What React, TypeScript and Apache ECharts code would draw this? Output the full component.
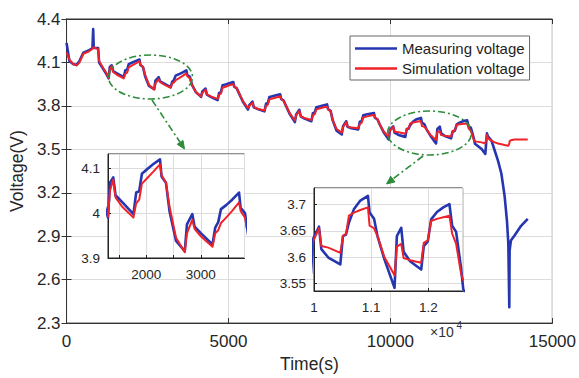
import React, { useEffect, useRef } from 'react';
import * as echarts from 'echarts';

// time (s) shared by both series
const time = [
  0, 90, 200, 310, 400, 520, 680, 800, 823, 840, 975, 1006, 1120, 1230, 1300, 1336,
  1396, 1438, 1556, 1766, 1816, 1871, 1921, 2016, 2126, 2252, 2281, 2361, 2426, 2546, 2706, 2746,
  2844, 2886, 3004, 3214, 3264, 3319, 3369, 3464, 3574, 3700, 3729, 3809, 3874, 3994, 4154, 4194,
  4292, 4334, 4452, 4662, 4712, 4767, 4817, 4912, 5022, 5148, 5177, 5257, 5322, 5442, 5602, 5642,
  5740, 5782, 5900, 6110, 6160, 6215, 6265, 6360, 6470, 6596, 6625, 6705, 6770, 6890, 7050, 7090,
  7188, 7230, 7348, 7558, 7608, 7663, 7713, 7808, 7918, 8044, 8073, 8153, 8218, 8338, 8498, 8538,
  8636, 8678, 8796, 9006, 9056, 9111, 9161, 9256, 9366, 9492, 9521, 9601, 9666, 9786, 9946, 9986,
  10087, 10129, 10250, 10460, 10506, 10560, 10611, 10700, 10810, 10943, 10972, 11050, 11110, 11230, 11408, 11449,
  11525, 11567, 11680, 11874, 11920, 11990, 12048, 12150, 12260, 12368, 12415, 12485, 12572, 12610, 12815, 12930,
  12980, 13010, 13120, 13222, 13323, 13425, 13527, 13600, 13640, 13670, 13680, 13720, 13832, 14035, 14240,
];

// Measuring voltage (V)
const measured = [
  4.235, 4.110, 4.090, 4.082, 4.110, 4.168, 4.182, 4.200, 4.330, 4.200, 4.200, 4.100, 4.060, 4.020, 3.990, 4.068,
  4.080, 4.040, 4.025, 3.998, 4.046, 4.049, 4.088, 4.098, 4.109, 4.120, 4.082, 4.068, 4.005, 3.938, 3.915, 3.975,
  3.998, 3.970, 3.955, 3.930, 3.968, 3.980, 4.009, 4.018, 4.030, 4.046, 4.012, 4.000, 3.945, 3.895, 3.863, 3.900,
  3.920, 3.877, 3.862, 3.840, 3.890, 3.895, 3.942, 3.948, 3.956, 3.965, 3.933, 3.921, 3.888, 3.830, 3.775, 3.805,
  3.830, 3.790, 3.778, 3.762, 3.815, 3.820, 3.862, 3.867, 3.873, 3.880, 3.848, 3.836, 3.803, 3.745, 3.688, 3.740,
  3.773, 3.728, 3.712, 3.694, 3.750, 3.755, 3.790, 3.796, 3.803, 3.810, 3.778, 3.766, 3.700, 3.628, 3.603, 3.660,
  3.694, 3.655, 3.646, 3.637, 3.690, 3.694, 3.735, 3.740, 3.745, 3.750, 3.718, 3.706, 3.673, 3.620, 3.568, 3.635,
  3.658, 3.615, 3.599, 3.586, 3.640, 3.643, 3.666, 3.692, 3.708, 3.717, 3.685, 3.673, 3.640, 3.596, 3.541, 3.640,
  3.656, 3.610, 3.592, 3.576, 3.621, 3.630, 3.672, 3.686, 3.695, 3.701, 3.660, 3.648, 3.578, 3.538, 3.502, 3.468,
  3.610, 3.590, 3.560, 3.490, 3.420, 3.333, 3.175, 3.000, 2.850, 2.410, 2.800, 2.870, 2.905, 2.972, 3.020,
];

// Simulation voltage (V)
const simulated = [
  4.170, 4.120, 4.090, 4.080, 4.100, 4.160, 4.175, 4.195, 4.200, 4.205, 4.190, 4.110, 4.065, 4.025, 3.992, 4.050,
  4.075, 4.035, 4.015, 3.990, 4.022, 4.030, 4.066, 4.078, 4.092, 4.109, 4.085, 4.068, 4.015, 3.945, 3.913, 3.955,
  3.985, 3.965, 3.948, 3.925, 3.955, 3.962, 3.978, 3.990, 4.005, 4.024, 4.005, 3.990, 3.945, 3.895, 3.865, 3.890,
  3.912, 3.880, 3.866, 3.848, 3.878, 3.885, 3.925, 3.932, 3.942, 3.950, 3.935, 3.920, 3.890, 3.835, 3.785, 3.800,
  3.822, 3.792, 3.780, 3.768, 3.800, 3.808, 3.845, 3.851, 3.858, 3.866, 3.850, 3.835, 3.805, 3.750, 3.700, 3.735,
  3.765, 3.730, 3.716, 3.702, 3.736, 3.742, 3.776, 3.782, 3.789, 3.795, 3.778, 3.762, 3.705, 3.640, 3.615, 3.655,
  3.688, 3.658, 3.650, 3.645, 3.676, 3.682, 3.720, 3.726, 3.732, 3.737, 3.722, 3.708, 3.675, 3.625, 3.585, 3.630,
  3.655, 3.621, 3.618, 3.608, 3.640, 3.645, 3.679, 3.685, 3.690, 3.695, 3.660, 3.655, 3.640, 3.600, 3.565, 3.620,
  3.625, 3.598, 3.594, 3.589, 3.627, 3.632, 3.669, 3.673, 3.676, 3.679, 3.645, 3.625, 3.568, 3.555, 3.548, 3.540,
  3.600, 3.575, 3.560, 3.548, 3.540, 3.535, 3.530, 3.527, 3.525, 3.540, 3.555, 3.563, 3.568, 3.568, 3.568,
];

const seriesNames = ['Measuring voltage', 'Simulation voltage'];

// axis ranges
const mainX = { min: 0, max: 15000, interval: 5000 };
const mainY = { min: 2.3, max: 4.4, interval: 0.3 };
const inset1X = { min: 1300, max: 3800, step: 500 };
const inset1Y = { min: 3.9, max: 4.132, interval: 0.1 };
const inset2X = { min: 10000, max: 12600, interval: 1000 };
const inset2Y = { min: 3.535, max: 3.732, step: 0.05 };

const BLUE = '#2536b0';
const RED = '#ef2229';
const GREEN = '#2e8c3a';
const TXT = '#262626';
const FONT = '"Liberation Sans", Arial, Helvetica, sans-serif';
const GRIDC = '#dcdcdc';

const trim = (v: number) => String(parseFloat(v.toFixed(3)));

const pairs = (vals: number[]) => time.map((t, i) => [t, vals[i]]);

const line = (name: string, vals: number[], color: string, width: number, idx: number, z: number) => ({
  type: 'line',
  name,
  data: pairs(vals),
  xAxisIndex: idx,
  yAxisIndex: idx,
  symbol: 'none',
  showSymbol: false,
  clip: true,
  silent: true,
  z,
  lineStyle: { color, width, join: 'round' },
  itemStyle: { color },
});

const insetAxisCommon = {
  z: 11,
  axisLine: { show: true, lineStyle: { color: '#222', width: 1 } },
  axisTick: { show: true, inside: true, length: 3, lineStyle: { color: '#222' } },
  splitLine: { show: true, lineStyle: { color: GRIDC, width: 1 } },
};

function buildOption() {
  return {
    animation: false,
    backgroundColor: '#fff',
    textStyle: { fontFamily: FONT },
    grid: [
      { left: 63, top: 19, width: 492, height: 311, show: true, backgroundColor: '#fff', borderColor: '#333', borderWidth: 1, z: 0 },
      { left: 108, top: 154, width: 136.5, height: 104, show: true, backgroundColor: '#fff', borderColor: '#222', borderWidth: 1, z: 10 },
      { left: 314, top: 188, width: 148.7, height: 103, show: true, backgroundColor: '#fff', borderColor: '#222', borderWidth: 1, z: 10 },
    ],
    xAxis: [
      {
        type: 'value', gridIndex: 0, ...mainX,
        name: 'Time(s)', nameLocation: 'middle', nameGap: 27,
        nameTextStyle: { fontSize: 17.5, color: TXT, fontFamily: FONT },
        axisLine: { show: true, lineStyle: { color: '#333', width: 1 } },
        axisTick: { show: true, inside: true, length: 5, lineStyle: { color: '#333' } },
        axisLabel: { fontSize: 17, color: TXT, margin: 10, fontFamily: FONT, formatter: (v: number) => String(v) },
        splitLine: { show: true, lineStyle: { color: GRIDC, width: 1 } },
      },
      {
        type: 'value', gridIndex: 1, min: inset1X.min, max: inset1X.max,
        minInterval: inset1X.step, maxInterval: inset1X.step,
        ...insetAxisCommon,
        axisLabel: {
          fontSize: 13.5, color: TXT, margin: 9, fontFamily: FONT, showMinLabel: false, showMaxLabel: false,
          formatter: (v: number) => (Math.abs(v % 1000) < 1e-6 ? String(v) : ''),
        },
      },
      {
        type: 'value', gridIndex: 2, ...inset2X,
        ...insetAxisCommon,
        axisLabel: {
          fontSize: 13.5, color: TXT, margin: 9, fontFamily: FONT, showMaxLabel: false,
          formatter: (v: number) => trim(v / 10000),
        },
      },
      {
        type: 'value', gridIndex: 0, position: 'top', ...mainX,
        axisLine: { show: true, lineStyle: { color: '#333', width: 1 } },
        axisTick: { show: true, inside: true, length: 5, lineStyle: { color: '#333' } },
        axisLabel: { show: false },
        splitLine: { show: false },
      },
    ],
    yAxis: [
      {
        type: 'value', gridIndex: 0, ...mainY,
        name: 'Voltage(V)', nameLocation: 'middle', nameGap: 36, nameRotate: 90,
        nameTextStyle: { fontSize: 17.5, color: TXT, fontFamily: FONT },
        axisLine: { show: true, lineStyle: { color: '#333', width: 1 } },
        axisTick: { show: true, inside: true, length: 5, lineStyle: { color: '#333' } },
        axisLabel: { fontSize: 17, color: TXT, margin: 6, fontFamily: FONT, formatter: (v: number) => v.toFixed(1) },
        splitLine: { show: true, lineStyle: { color: GRIDC, width: 1 } },
      },
      {
        type: 'value', gridIndex: 1, ...inset1Y,
        ...insetAxisCommon,
        axisLabel: { fontSize: 13.5, color: TXT, margin: 8, fontFamily: FONT, showMaxLabel: false, formatter: trim },
      },
      {
        type: 'value', gridIndex: 2, min: inset2Y.min, max: inset2Y.max,
        minInterval: inset2Y.step, maxInterval: inset2Y.step,
        ...insetAxisCommon,
        axisLabel: { fontSize: 13.5, color: TXT, margin: 8, fontFamily: FONT, showMinLabel: false, showMaxLabel: false, formatter: trim },
      },
      {
        type: 'value', gridIndex: 0, position: 'right', ...mainY,
        axisLine: { show: true, lineStyle: { color: '#333', width: 1 } },
        axisTick: { show: true, inside: true, length: 5, lineStyle: { color: '#333' } },
        axisLabel: { show: false },
        splitLine: { show: false },
      },
    ],
    legend: {
      data: [
        { name: seriesNames[0], icon: 'rect', itemStyle: { color: BLUE } },
        { name: seriesNames[1], icon: 'rect', itemStyle: { color: RED } },
      ],
      orient: 'vertical',
      left: 350,
      top: 36,
      itemWidth: 42,
      itemHeight: 2.6,
      itemGap: 5,
      padding: [5, 5, 4, 5],
      borderColor: '#666',
      borderWidth: 1,
      backgroundColor: '#fff',
      textStyle: { fontSize: 15, color: '#1e1e1e', fontFamily: FONT, lineHeight: 15 },
      z: 20,
    },
    series: [
      line(seriesNames[0], measured, BLUE, 2.6, 0, 2),
      line(seriesNames[1], simulated, RED, 2, 0, 3),
      line(seriesNames[0], measured, BLUE, 2.6, 1, 12),
      line(seriesNames[1], simulated, RED, 2, 1, 13),
      line(seriesNames[0], measured, BLUE, 2.6, 2, 12),
      line(seriesNames[1], simulated, RED, 2, 2, 13),
    ],
    graphic: [
      {
        type: 'ellipse', z: 100, silent: true,
        shape: { cx: 150.5, cy: 77, rx: 42, ry: 22 },
        style: { fill: 'none', stroke: GREEN, lineWidth: 1.6, lineDash: [7, 3, 2, 3] },
      },
      {
        type: 'ellipse', z: 100, silent: true,
        shape: { cx: 429.5, cy: 133, rx: 42, ry: 22 },
        style: { fill: 'none', stroke: GREEN, lineWidth: 1.6, lineDash: [7, 3, 2, 3] },
      },
      {
        type: 'line', z: 100, silent: true,
        shape: { x1: 152, y1: 100, x2: 180.1, y2: 142.3 },
        style: { stroke: GREEN, lineWidth: 1.6, lineDash: [7, 3, 2, 3] },
      },
      {
        type: 'polygon', z: 100, silent: true,
        shape: { points: [[184.5, 149], [177.2, 144.2], [183.0, 140.4]] },
        style: { fill: GREEN, stroke: GREEN, lineWidth: 1 },
      },
      {
        type: 'line', z: 100, silent: true,
        shape: { x1: 423, y1: 156, x2: 392.8, y2: 179.1 },
        style: { stroke: GREEN, lineWidth: 1.6, lineDash: [7, 3, 2, 3] },
      },
      {
        type: 'polygon', z: 100, silent: true,
        shape: { points: [[386.5, 184], [390.7, 176.3], [395.0, 181.9]] },
        style: { fill: GREEN, stroke: GREEN, lineWidth: 1 },
      },
      {
        type: 'text', z: 100, silent: true, x: 430, y: 325,
        style: { text: '×10', fontSize: 14, fill: '#333', fontFamily: FONT, verticalAlign: 'top', align: 'left' },
      },
      {
        type: 'text', z: 100, silent: true, x: 456.5, y: 320,
        style: { text: '4', fontSize: 10, fill: '#333', fontFamily: FONT, verticalAlign: 'top', align: 'left' },
      },
    ],
  };
}

export default function App() {
  const ref = useRef<HTMLDivElement>(null);
  useEffect(() => {
    if (!ref.current) return;
    const chart = echarts.init(ref.current, undefined, { renderer: 'svg' });
    chart.setOption(buildOption() as any);
    return () => chart.dispose();
  }, []);
  return (
    <div
      ref={ref}
      style={{ position: 'fixed', left: 0, top: 0, width: 579, height: 378, background: '#fff' }}
    />
  );
}
